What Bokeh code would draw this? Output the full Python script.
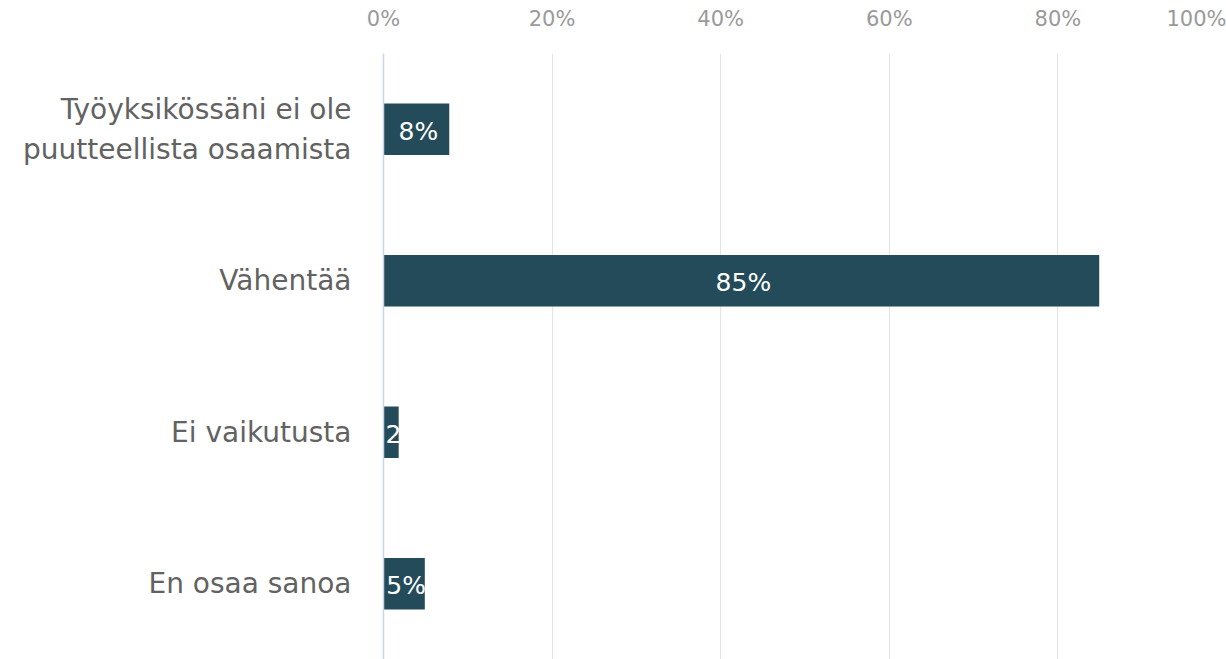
from bokeh.plotting import figure
from bokeh.models import ColumnDataSource, LinearAxis, FixedTicker
from bokeh.core.properties import value
from bokeh.embed import file_html
from bokeh.resources import INLINE

categories = ["Työyksikössäni ei ole\npuutteellista osaamista", "Vähentää", "Ei vaikutusta", "En osaa sanoa"]
values = [7.8, 84.9, 1.8, 4.9]
value_labels = ["8%", "85%", "2%", "5%"]
tick_values = [0, 20, 40, 60, 80, 100]
tick_labels = ["0%", "20%", "40%", "60%", "80%", "100%"]

W, H = 1226, 659
cats_rev = list(reversed(categories))

label_x = [v / 2 if v >= 3 else 0 for v in values]
label_align = ["center" if v >= 3 else "left" for v in values]
src = ColumnDataSource(dict(cat=categories, val=values, lab=value_labels,
                            lx=label_x, align=label_align))

p = figure(width=W, height=H, y_range=cats_rev, x_range=(0, 100),
           output_backend="svg", toolbar_location=None,
           x_axis_location=None, min_border_left=383, min_border_right=0,
           min_border_top=53, min_border_bottom=0)
p.outline_line_color = None
p.background_fill_color = "white"

p.hbar(y="cat", right="val", left=0, height=0.34, source=src,
       fill_color="#244b59", line_color=None)

p.text(x="lx", y="cat", text="lab", source=src, text_color="white",
       text_font=value("DejaVu Sans"), text_font_size="25px",
       text_align="align", text_baseline="middle", x_offset=2, y_offset=2)

xa = LinearAxis(ticker=FixedTicker(ticks=tick_values),
                major_label_overrides=dict(zip(tick_values, tick_labels)))
xa.axis_line_color = None
xa.major_tick_line_color = None
xa.minor_tick_line_color = None
xa.major_label_standoff = 17
xa.major_label_text_font = "DejaVu Sans"
xa.major_label_text_font_size = "21px"
xa.major_label_text_color = "#9a9a9a"
p.add_layout(xa, "above")

p.xgrid.ticker = FixedTicker(ticks=tick_values)
p.xgrid.grid_line_color = "#e3e3e3"
p.ygrid.grid_line_color = None

ya = p.yaxis[0]
ya.axis_line_color = "#c9d5ee"
ya.axis_line_width = 1.5
ya.major_tick_line_color = None
ya.minor_tick_line_color = None
ya.major_label_standoff = 26
ya.major_label_text_font = "DejaVu Sans"
ya.major_label_text_font_size = "28px"
ya.major_label_text_color = "#626262"

open("out.html", "w").write(file_html(p, INLINE))
